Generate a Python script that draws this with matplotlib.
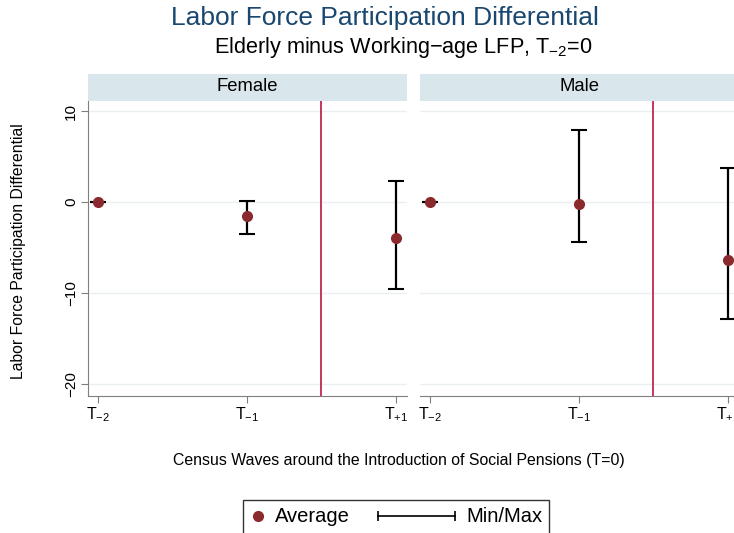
import numpy as np
import matplotlib.pyplot as plt
from matplotlib.patches import Rectangle
from matplotlib.lines import Line2D

plt.rcParams['font.family'] = ['Liberation Sans', 'DejaVu Sans']
plt.rcParams['mathtext.fontset'] = 'custom'
plt.rcParams['mathtext.rm'] = 'Liberation Sans'
plt.rcParams['mathtext.it'] = 'Liberation Sans'

waves = [1, 2, 3]
wave_labels = ['T$_{-2}$', 'T$_{-1}$', 'T$_{+1}$']
panels = ['Female', 'Male']
avg = {'Female': [0, -1.5, -3.9], 'Male': [0, -0.2, -6.4]}
lo = {'Female': [0, -3.5, -9.6], 'Male': [0, -4.4, -12.8]}
hi = {'Female': [0, 0.1, 2.3], 'Male': [0, 7.9, 3.7]}

W, H = 734, 533
fig = plt.figure(figsize=(W / 100, H / 100), dpi=100)
fig.patch.set_facecolor('white')

def fx(px):
    return px / W

def fy(py):
    return 1 - py / H

lefts = [88, 420]
width = 319
top, bottom = 101, 396
ax_color = '#7f7f7f'
mark_color = '#8b2a2e'
line_color = '#c0284f'

for left, name in zip(lefts, panels):
    ax = fig.add_axes([fx(left), fy(bottom), width / W, (bottom - top) / H])
    for y in [-20, -10, 0, 10]:
        ax.axhline(y, color='#eaf0f2', lw=1, zorder=0)
    ax.axvline(2.5, color=line_color, lw=1.3, zorder=1)
    a = np.array(avg[name])
    err = np.vstack([a - np.array(lo[name]), np.array(hi[name]) - a])
    ax.errorbar(waves, a, yerr=err, fmt='none', ecolor='black', elinewidth=1.6,
                capsize=5.5, capthick=1.5, zorder=2)
    ax.plot(waves, a, 'o', color=mark_color, ms=7, zorder=3)
    ax.set_xlim(0.933, 3.074)
    ax.set_ylim(-21.3, 11.1)
    ax.set_xticks(waves)
    ax.set_xticklabels(wave_labels, fontsize=11.5)
    for s in ['top', 'right']:
        ax.spines[s].set_visible(False)
    for s in ['left', 'bottom']:
        ax.spines[s].set_color(ax_color)
    ax.tick_params(color=ax_color, length=5, pad=2)
    if left == lefts[0]:
        ax.set_yticks([-20, -10, 0, 10])
        ax.set_yticklabels(['\u221220', '\u221210', '0', '10'], rotation=90, va='center', fontsize=11)
    else:
        ax.spines['left'].set_visible(False)
        ax.set_yticks([])
    # header strip
    fig.patches.append(Rectangle((fx(left), fy(101)), width / W, 27 / H,
                                 transform=fig.transFigure, facecolor='#d9e6eb',
                                 edgecolor='none', figure=fig))
    fig.text(fx(left + width / 2), fy(87), name, ha='center', va='center', fontsize=13.3)

fig.text(fx(385), fy(18), 'Labor Force Participation Differential', ha='center',
         va='center', fontsize=19, color='#1a476f')
fig.text(fx(403), fy(48), 'Elderly minus Working\u2212age LFP, T$_{-2}$=0', ha='center',
         va='center', fontsize=15.6)
fig.text(fx(399), fy(460), 'Census Waves around the Introduction of Social Pensions (T=0)',
         ha='center', va='center', fontsize=11.4)
fig.text(fx(19), fy(251), 'Labor Force Participation Differential', ha='center',
         va='center', rotation=90, fontsize=11.3)

# legend drawn by hand so each key can have its own width
fig.patches.append(Rectangle((fx(243), fy(545)), 306 / W, 45 / H,
                             transform=fig.transFigure, facecolor='white',
                             edgecolor='#333333', lw=1, figure=fig))
fig.lines.append(Line2D([fx(258)], [fy(516)], marker='o', color=mark_color, ms=7,
                        ls='none', transform=fig.transFigure, figure=fig))
fig.text(fx(275), fy(516), 'Average', ha='left', va='center', fontsize=14.5)
fig.lines.append(Line2D([fx(378), fx(455)], [fy(516), fy(516)], color='black', lw=1.2,
                        marker='|', ms=7, mew=1.2, transform=fig.transFigure, figure=fig))
fig.text(fx(466), fy(516), 'Min/Max', ha='left', va='center', fontsize=14.5)

fig.savefig('out.png', dpi=100)
